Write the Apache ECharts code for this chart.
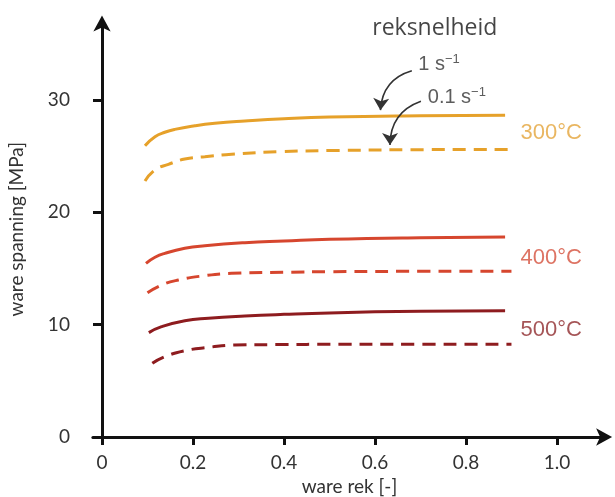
<!DOCTYPE html>
<html><head><meta charset="utf-8">
<script src="https://cdn.jsdelivr.net/npm/echarts@6/dist/echarts.min.js"></script>
<style>html,body{margin:0;padding:0;background:#fff}#c{width:615px;height:497px}</style>
</head><body><div id="c"></div>
<script>
// ---- data ----
const xTicks = [0, 0.2, 0.4, 0.6, 0.8, 1.0];
const xTickLabels = ['0', '0.2', '0.4', '0.6', '0.8', '1.0'];
const yTicks = [0, 10, 20, 30];
const yTickLabels = ['0', '10', '20', '30'];
const temps = ['300°C', '400°C', '500°C'];

const strain300Fast = [0.0945, 0.1165, 0.138, 0.160, 0.204, 0.248, 0.314, 0.40, 0.50, 0.70, 0.886];
const stress300Fast = [25.93, 26.73, 27.13, 27.39, 27.71, 27.93, 28.13, 28.33, 28.48, 28.6, 28.65];
const strain300Slow = [0.0945, 0.1165, 0.146, 0.182, 0.226, 0.285, 0.39, 0.50, 0.70, 0.90];
const stress300Slow = [22.79, 23.77, 24.27, 24.75, 24.95, 25.17, 25.4, 25.5, 25.58, 25.6];
const strain400Fast = [0.0967, 0.1165, 0.138, 0.182, 0.226, 0.314, 0.40, 0.50, 0.70, 0.886];
const stress400Fast = [15.46, 16.0, 16.35, 16.8, 17.03, 17.3, 17.45, 17.6, 17.74, 17.8];
const strain400Slow = [0.100, 0.131, 0.168, 0.219, 0.285, 0.40, 0.50, 0.70, 0.90];
const stress400Slow = [12.85, 13.53, 13.98, 14.33, 14.57, 14.66, 14.72, 14.75, 14.76];
const strain500Fast = [0.103, 0.131, 0.182, 0.234, 0.314, 0.40, 0.50, 0.70, 0.886];
const stress500Fast = [9.29, 9.82, 10.35, 10.57, 10.77, 10.92, 11.05, 11.2, 11.25];
const strain500Slow = [0.1106, 0.138, 0.182, 0.234, 0.292, 0.40, 0.50, 0.70, 0.90];
const stress500Slow = [6.56, 7.15, 7.68, 7.98, 8.19, 8.23, 8.25, 8.25, 8.25];

// annotation anchors (data coords)
const tempLabelAnchors = [[0.92, 27.05], [0.92, 15.95], [0.92, 9.55]];
const rateTitle = 'reksnelheid';
const rateLabels = ['1 s{sup|−1}', '0.1 s{sup|−1}'];
const titleAnchor = [0.594, 36.4];
const rateAnchors = [[0.695, 33.2], [0.716, 30.2]];
const arrows = [[[0.681, 32.6], [0.612, 29.1]], [[0.701, 29.9], [0.633, 26.0]]];

const colors = ['#E6A12A', '#D6462E', '#8E1C1F'];
const labelColors = ['#E3A43A', '#D5503C', '#8E2B2D'];

const zip = (xs, ys) => xs.map((x, i) => [x, ys[i]]);
function line(name, xs, ys, color, dashed) {
  return {
    type: 'line', name, data: zip(xs, ys), smooth: 0.5, showSymbol: false, symbol: 'none',
    lineStyle: { color, width: 3, type: dashed ? [13, 8] : 'solid', cap: 'butt' },
    silent: true, z: 3
  };
}
const tickFont = { fontFamily: 'Lato', fontSize: 19, color: '#333' };

const chart = echarts.init(document.getElementById('c'), null, { renderer: 'canvas' });
chart.setOption({
  animation: false,
  backgroundColor: '#fff',
  grid: { left: 92.9, top: 21.4, right: 8.9, bottom: 60, containLabel: false, outerBoundsMode: 'none' },
  xAxis: {
    type: 'value', min: -0.02, max: 1.108,
    name: 'ware rek [-]', nameLocation: 'middle', nameGap: 40,
    nameTextStyle: { fontFamily: 'Lato', fontSize: 19, color: '#333' },
    axisLine: { show: true, onZero: false, symbol: ['none', 'arrow'], symbolSize: [13, 16], symbolOffset: [0, 6],
      lineStyle: { color: '#111', width: 3 } },
    axisTick: { show: true, length: 8, inside: false, customValues: xTicks, lineStyle: { color: '#111', width: 3 } },
    axisLabel: { customValues: xTicks, formatter: (v) => xTickLabels[xTicks.indexOf(v)] ?? '', margin: 16, ...tickFont },
    splitLine: { show: false }
  },
  yAxis: {
    type: 'value', min: 0, max: 37,
    name: 'ware spanning [MPa]', nameLocation: 'middle', nameGap: 67,
    nameTextStyle: { fontFamily: 'Lato', fontSize: 19, color: '#333' },
    axisLine: { show: true, onZero: true, symbol: ['none', 'arrow'], symbolSize: [13, 16], symbolOffset: [0, 6],
      lineStyle: { color: '#111', width: 3 } },
    axisTick: { show: true, length: 9, customValues: yTicks, lineStyle: { color: '#111', width: 3 } },
    axisLabel: { customValues: yTicks, formatter: (v) => yTickLabels[yTicks.indexOf(v)] ?? '', margin: 23, ...tickFont },
    splitLine: { show: false }
  },
  series: [
    line('300 fast', strain300Fast, stress300Fast, colors[0], false),
    line('300 slow', strain300Slow, stress300Slow, colors[0], true),
    line('400 fast', strain400Fast, stress400Fast, colors[1], false),
    line('400 slow', strain400Slow, stress400Slow, colors[1], true),
    line('500 fast', strain500Fast, stress500Fast, colors[2], false),
    line('500 slow', strain500Slow, stress500Slow, colors[2], true),
    {
      type: 'scatter', symbolSize: 0, silent: true,
      data: tempLabelAnchors.map((p, i) => ({
        value: p,
        label: { show: true, position: 'right', distance: 0, formatter: temps[i],
          fontFamily: 'Liberation Sans', fontSize: 22, color: labelColors[i] }
      }))
    },
    {
      type: 'scatter', symbolSize: 0, silent: true,
      data: [{ value: titleAnchor, label: { show: true, position: 'right', distance: 0, formatter: rateTitle,
        fontFamily: 'Open Sans', fontSize: 23, color: '#151515' } }].concat(
        rateAnchors.map((p, i) => ({
          value: p,
          label: { show: true, position: 'right', distance: 0, formatter: rateLabels[i],
            fontFamily: 'Liberation Sans', fontSize: 20, color: '#333',
            rich: { sup: { fontFamily: 'Liberation Sans', fontSize: 13, color: '#333', verticalAlign: 'top', padding: [0, 0, 10, 0] } } }
        })))
    },
    {
      type: 'lines', coordinateSystem: 'cartesian2d', silent: true, z: 5,
      symbol: ['none', 'arrow'], symbolSize: 12,
      lineStyle: { color: '#333', width: 1.6, curveness: -0.35, opacity: 1 },
      data: arrows.map(a => ({ coords: a }))
    }
  ]
});
</script></body></html>
